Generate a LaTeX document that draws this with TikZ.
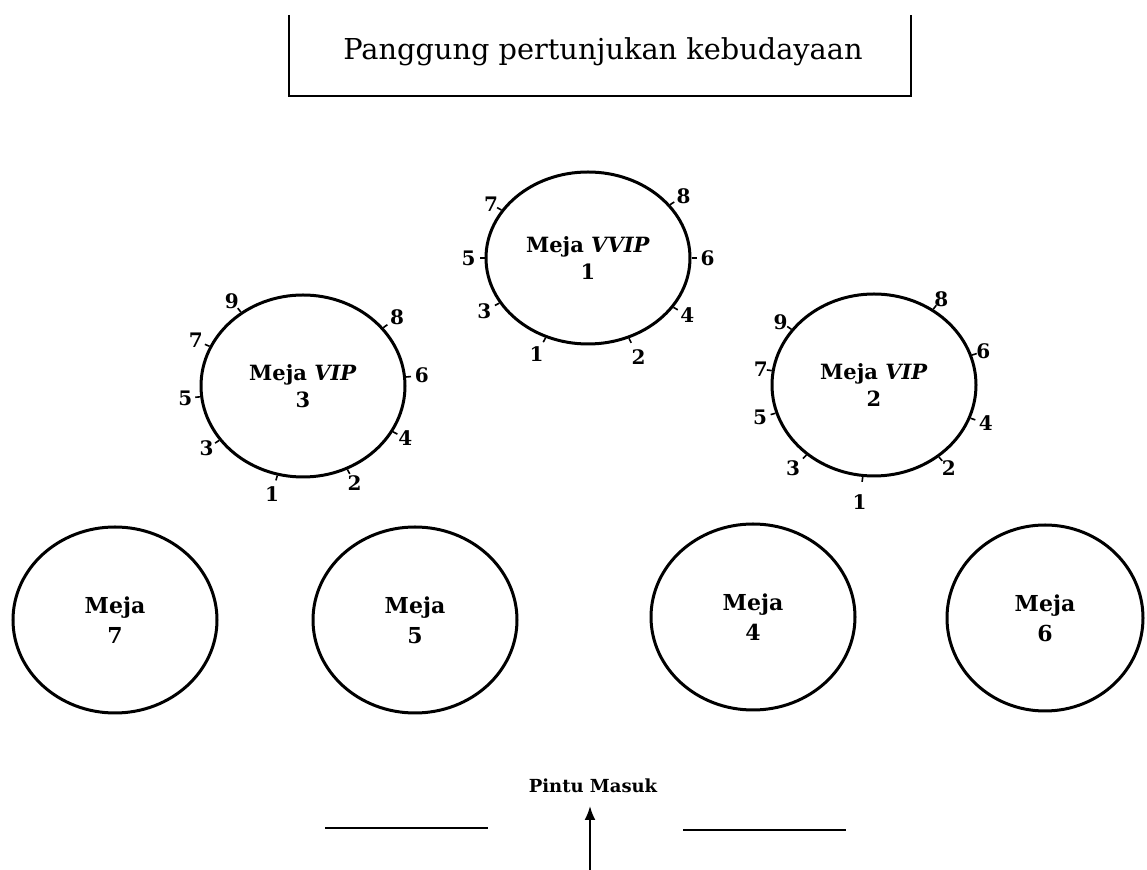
\documentclass[tikz,border=0pt]{standalone}
\usepackage{fontspec}
\setmainfont{DejaVu Serif}
\usepackage{tikz}
\usetikzlibrary{positioning, shapes.geometric, calc, arrows.meta}
\tikzset{
    base/.style={
        align=center,
        inner sep=0pt
    },
    tablering/.style={
        base,
        ellipse,
        draw,
        line width=1.5pt,
        minimum width=102pt,
        minimum height=91pt,
        font=\fontsize{10.5}{13.5}\selectfont\bfseries
    },
    bigtable/.style={
        tablering,
        minimum height=93pt,
        font=\fontsize{11}{15}\selectfont\bfseries
    },
    seatnum/.style={
        base,
        font=\fontsize{10}{11}\selectfont\bfseries
    },
    seattick/.style={
        line width=0.8pt
    },
    wall/.style={
        line width=0.9pt
    },
    walkin/.style={
        -{Latex[length=7pt, width=5.5pt]},
        line width=1pt
    }
}

\begin{document}
\begin{tikzpicture}[x=0.5pt, y=0.5pt]
  \useasboundingbox (0,0) rectangle (1147,-870);

  % Stage
  \coordinate (stageTL) at (289,-15);
  \coordinate (stageBL) at (289,-96);
  \coordinate (stageBR) at (911,-96);
  \coordinate (stageTR) at (911,-15);
  \draw[wall] (stageTL) -- (stageBL) -- (stageBR) -- (stageTR);
  \node[base, font=\fontsize{14.4}{17}\selectfont] (stage) at (603,-52) {Panggung pertunjukan kebudayaan};

  % VVIP and VIP tables
  \node[tablering, minimum height=86pt] (t1) at (588,-258) {Meja \textit{VVIP}\\1};
  \node[tablering] (t3) at (303,-386) {Meja \textit{VIP}\\3};
  \node[tablering] (t2) at (874,-385) {Meja \textit{VIP}\\2};

  % Seats
  \foreach \a/\n/\d in {151/7/12, 33/8/16, 180/5/16, 0/6/16, 207/3/17, 330/4/16, 242/1/19, 297/2/21} {
    \draw[seattick] (t1.\a) -- ($(t1.\a)+(\a:5)$);
    \node[seatnum] at ($(t1.\a)+(\a:\d)$) {\n};
  }
  \foreach \a/\n/\d in {130/9/14, 157/7/15, 186/5/15, 213/3/15, 254/1/19, 298/2/15, 333/4/14, 5/6/16, 36/8/17} {
    \draw[seattick] (t3.\a) -- ($(t3.\a)+(\a:5)$);
    \node[seatnum] at ($(t3.\a)+(\a:\d)$) {\n};
  }
  \foreach \a/\n/\d in {52/8/13, 17/6/12, 341/4/16, 312/2/15, 263/1/25, 226/3/19, 196/5/16, 172/7/11, 146/9/13} {
    \draw[seattick] (t2.\a) -- ($(t2.\a)+(\a:5)$);
    \node[seatnum] at ($(t2.\a)+(\a:\d)$) {\n};
  }

  % Regular tables
  \node[bigtable] (t7) at (115,-620) {Meja\\7};
  \node[bigtable] (t5) at (415,-620) {Meja\\5};
  \node[bigtable] (t4) at (753,-617) {Meja\\4};
  \node[bigtable, minimum width=98pt] (t6) at (1045,-618) {Meja\\6};

  % Entrance
  \node[base, font=\fontsize{9}{12}\selectfont\bfseries] (entry) at (593,-786) {Pintu Masuk};
  \coordinate (door) at (590,-870);
  \coordinate (doortip) at (590,-806);
  \draw[walkin] (door) -- (doortip);
  \coordinate (wallL1) at (325,-828);
  \coordinate (wallL2) at (488,-828);
  \coordinate (wallR1) at (683,-830);
  \coordinate (wallR2) at (846,-830);
  \draw[wall] (wallL1) -- (wallL2);
  \draw[wall] (wallR1) -- (wallR2);
\end{tikzpicture}
\end{document}
